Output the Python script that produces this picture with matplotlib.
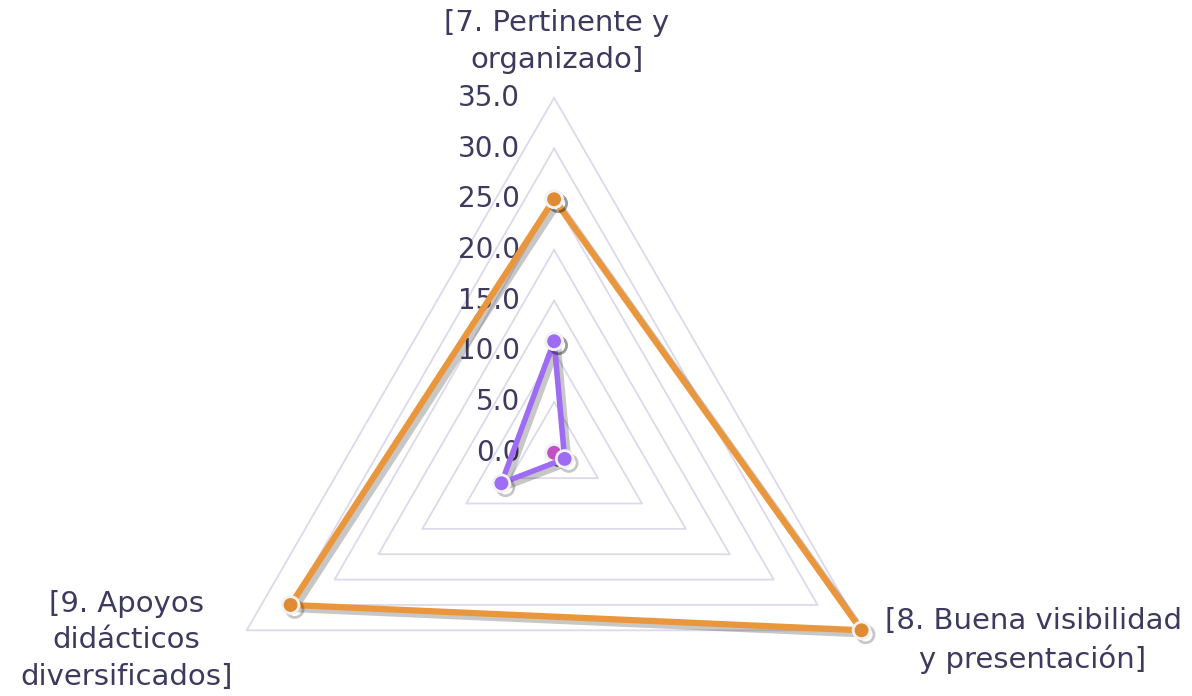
"""
Gráfico radial (3 ejes) de la valoración de materiales.
"""
import numpy as np
import matplotlib
matplotlib.use('Agg')
import matplotlib.pyplot as plt
import matplotlib.patheffects as pe

# Datos
categorias = ['[7. Pertinente y\norganizado]',
              '[8. Buena visibilidad\ny presentación]',
              '[9. Apoyos\ndidácticos\ndiversificados]']
serie_naranja = [25.0, 35.0, 30.0]
serie_morada = [11.0, 1.2, 6.0]
serie_rosa = [0.0, 0.0, 0.0]
niveles = [0.0, 5.0, 10.0, 15.0, 20.0, 25.0, 30.0, 35.0]

COLOR_TEXTO = '#3d3a5e'
COLOR_REJILLA = '#dcd9ec'

plt.rcParams['font.family'] = ['DejaVu Sans']

fig = plt.figure(figsize=(11.92, 6.96), dpi=100)
ax = fig.add_axes([0.1245, -0.2335, 0.6807, 1.1658], projection='polar')
ax.set_theta_offset(np.pi / 2)
ax.set_theta_direction(-1)
ax.set_ylim(0, 40)
ax.grid(False)
ax.spines['polar'].set_visible(False)
ax.set_xticks([])
ax.set_yticks([])
ax.patch.set_alpha(0)

# Ángulos de cada eje (cerrando el polígono)
angulos = np.linspace(0, 2 * np.pi, len(categorias), endpoint=False)
ang_cerrado = np.append(angulos, angulos[0])

# Rejilla triangular
for n in niveles[1:]:
    ax.plot(ang_cerrado, [n] * len(ang_cerrado), color=COLOR_REJILLA, lw=1.3, zorder=1)

# Etiquetas del eje radial
for n in niveles:
    ax.annotate(f'{n:.1f}', xy=(0, n), xytext=(-34, 0), textcoords='offset pixels',
                ha='right', va='center', fontsize=20, color=COLOR_TEXTO)

# Etiquetas de categorías
desplaz = [(3, 56, 'center', 'center'), (23, -10, 'left', 'center'), (-14, -10, 'right', 'center')]
for ang, cat, (dx, dy, ha, va) in zip(angulos, categorias, desplaz):
    ax.annotate(cat, xy=(ang, niveles[-1]), xytext=(dx, dy), textcoords='offset pixels',
                ha=ha, va=va, multialignment='center', fontsize=21, color=COLOR_TEXTO,
                linespacing=1.4, annotation_clip=False)

sombra = [pe.SimpleLineShadow(offset=(3, -3), alpha=0.22, shadow_color='black'), pe.Normal()]

def cerrar(v):
    return list(v) + [v[0]]

ax.plot(ang_cerrado, cerrar(serie_rosa), color='#c24fc4', lw=3.5, marker='o', ms=12,
        mfc='#c24fc4', mec='#f2f2f2', mew=2, zorder=3, clip_on=False, path_effects=sombra)
ax.plot(ang_cerrado, cerrar(serie_morada), color='#9d6cf2', lw=4, marker='o', ms=12,
        mfc='#9d6cf2', mec='#f2f2f2', mew=2, zorder=4, clip_on=False, path_effects=sombra)
ax.plot(ang_cerrado, cerrar(serie_naranja), color='#ea963c', lw=4.5, marker='o', ms=12,
        mfc='#e08a33', mec='#f2f2f2', mew=2, zorder=5, clip_on=False, path_effects=sombra)

fig.savefig('out.png', dpi=100)
